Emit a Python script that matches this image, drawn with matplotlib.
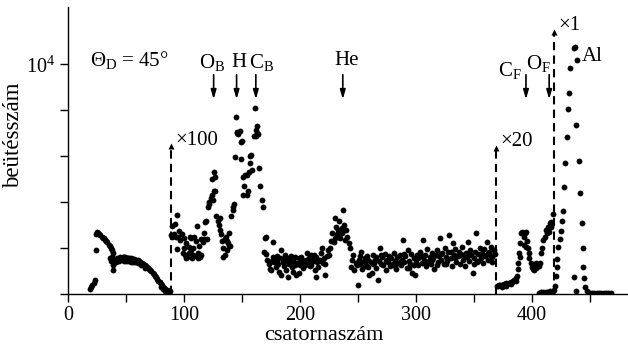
"""Backscattering spectrum (channels vs counts) with scale-factor markers."""

import matplotlib
matplotlib.use("Agg")
import matplotlib.pyplot as plt
import numpy as np

plt.rcParams['font.family'] = ['Liberation Serif', 'DejaVu Serif']
plt.rcParams['mathtext.fontset'] = 'custom'
plt.rcParams['mathtext.rm'] = 'Liberation Serif'
plt.rcParams['mathtext.it'] = 'Liberation Serif:italic'

# --- data: (channel, counts) -------------------------------------------------
# segment 1, x1 scale (low channels)
ch_a = [19, 20, 21, 22, 23, 24, 24, 25, 26, 27, 28, 29, 30, 31, 32, 33, 34, 35, 36, 37, 38, 39,
        36, 37, 38, 39, 39, 40, 41, 42, 43, 44, 45, 46,
        47, 48, 49, 50, 51, 52, 53, 54, 55, 56, 57, 58, 59, 60, 61,
        48, 50, 52, 54, 56, 58, 60, 63, 66,
        62, 63, 64, 65, 66, 67, 68, 69, 70, 71, 72, 73, 74, 75, 76, 77, 78, 79, 80,
        81, 82, 83, 84, 85, 86, 87, 88, 80, 82, 84, 86, 87]
cnt_a = [230, 320, 410, 500, 600, 1900, 2600, 2700, 2650, 2600, 2550, 2500, 2450, 2420, 2350,
         2300, 2250, 2150, 2100, 2000, 1900, 1800,
         1550, 1450, 1600, 1250, 1050, 1500, 1400, 1550, 1500, 1450, 1600, 1550,
         1600, 1590, 1590, 1580, 1570, 1560, 1550, 1550, 1540, 1530, 1520, 1500, 1480, 1460, 1430,
         1430, 1450, 1420, 1400, 1410, 1380, 1350, 1250, 1150,
         1400, 1370, 1340, 1300, 1260, 1230, 1190, 1140, 1100, 1050, 980, 920, 850, 780, 720,
         650, 580, 520, 450, 380, 310, 250, 200, 160, 140, 120, 110, 300, 200, 140, 100, 90]

# segment 2, x100 scale (O, H, C recoils from the back)
ch_b = [89, 90, 90, 91, 92, 93, 94, 94, 95, 96, 97, 98,
        99, 100, 101, 102, 103, 104, 105, 106, 107, 108, 109, 110, 111, 112, 113, 114, 115,
        116, 117, 118, 119, 120, 121, 122, 123, 124, 125, 126, 127, 128, 129, 130, 131, 132,
        133, 134, 135, 136, 137, 138, 139, 140, 141, 142, 143, 144, 145, 146, 147, 148, 149,
        149, 150, 151, 152, 153, 154, 155, 156, 157, 158, 159, 160, 161, 162, 163, 164, 165,
        166, 167, 168,
        100, 102, 104, 106, 108, 110, 112, 115, 117, 122, 124, 126, 127, 131, 134, 135, 137,
        139, 142, 146, 151, 154, 157, 162, 163]
cnt_b = [2550, 2500, 2950, 2600, 3050, 2500, 3450, 1950, 2500, 2750, 2350, 2600,
         1800, 2450, 1700, 2200, 1600, 2050, 2500, 1900, 1550, 2000, 2500, 1650, 2950, 1800,
         2100, 1600, 2400,
         2250, 2650, 3150, 3200, 2400, 3800, 4000, 4200, 5000, 4100, 5300, 4500, 3400, 3200,
         3000, 2800, 2600,
         2300, 2000, 1700, 2500, 1900, 2200, 2650, 2100, 3400, 3650, 3900, 5950, 7700, 7050,
         6950, 7100, 6600,
         5900, 6650, 5100, 4700, 5200, 4300, 4500, 5300, 5700, 6050, 5400, 6900, 8100, 7150,
         7300, 6950, 5500,
         4700, 4100, 3800,
         2000, 1550, 1800, 2450, 1700, 2300, 1550, 1700, 2400, 3900, 4300, 4500, 5100, 3300,
         1600, 2400, 2300,
         2100, 3800, 7000, 4300, 5200, 6000, 6900, 7000]

# segment 3, x100 scale continued (He peak region)
ch_c = [169, 170, 171, 171, 172, 173, 174, 175, 176, 177, 177,
        178, 179, 180, 181, 182, 183, 184, 184, 185, 186, 187, 188, 189, 190, 190, 191, 192,
        193, 194, 195, 196, 197, 198, 199, 199, 200, 201, 202, 203, 204, 205, 206, 207, 208,
        209, 210, 210, 211, 212, 213, 214, 214, 215, 216, 217, 218, 219, 220, 221, 222, 223,
        224, 225, 226, 227, 228, 229, 230, 230, 231, 232, 233, 234, 235, 236, 237, 238, 239,
        240, 241, 242, 243, 244, 245, 246, 247, 248, 249,
        180, 186, 192, 196, 202, 208, 212, 218, 222, 233, 236]
cnt_c = [1845, 2450, 2500, 1750, 1480, 1300, 1110, 1050, 1450, 2280, 1600,
         1410, 1190, 1650, 1300, 970, 1550, 1920, 830, 1400, 1200, 1700, 1050, 1450, 1550, 750,
         1300, 1650,
         1190, 970, 1400, 1630, 830, 1340, 1550, 900, 1250, 1630, 1400, 1150, 1270, 1500, 1770,
         1300, 1550,
         1200, 1700, 1270, 1450, 1600, 1050, 1630, 750, 1400, 1190, 1500, 1800, 2000, 1350,
         1550, 830, 1650,
         1900, 1700, 2000, 2300, 2650, 2250, 3300, 2430, 2920, 2600, 2800, 3160, 2430, 2870,
         3660, 3000, 2350,
         2790, 2500, 2200, 2000, 1190, 1500, 1700, 1050, 1350, 1250,
         1500, 1550, 1450, 1250, 1500, 1350, 1700, 1450, 1300, 2500, 2650]

# segment 4, x100 scale plateau
ch_d = list(range(250, 369)) + [252, 256, 259, 263, 266, 270, 274, 278, 282, 286, 290, 294,
                                298, 302, 306, 310, 314, 318, 322, 326, 330, 334, 338, 342,
                                346, 350, 354, 358, 362, 366]
cnt_d = [390, 1500, 1300, 1850, 1100, 1450, 1550, 1250, 1650, 1190,
         830, 1400, 900, 1700, 1350, 1500, 1150, 610, 1450, 2000,
         1300, 1600, 1250, 1750, 1050, 1500, 1400, 1650, 1200, 1550,
         1300, 1800, 1450, 1100, 1600, 1350, 1700, 1250, 1500, 2350,
         1400, 1650, 1150, 1900, 1450, 1300, 1750, 900, 1550, 830,
         1400, 1700, 1250, 1600, 1850, 1350, 2350, 1500, 1700, 1200,
         1950, 1450, 1600, 1300, 1800, 1550, 1100, 1700, 1900, 1400,
         1650, 2420, 1500, 1800, 1300, 2000, 1600, 1450, 1850, 2570,
         1550, 1200, 2210, 1700, 1950, 1400, 1650, 1850, 1300, 1750,
         2050, 1500, 1200, 1800, 1600, 2280, 1450, 1900, 1700, 900,
         1550, 1850, 2650, 1400, 1750, 2000, 1550, 1800, 1350, 1950,
         1650, 2280, 1500, 1850, 1700, 2050, 1600, 1900, 1750,
         1650, 1200, 1500, 1300, 1600, 1700, 1450, 1600, 1200, 1400, 1750, 1150,
         1250, 1550, 1650, 1350, 1500, 1250, 1750, 1300, 1850, 1550, 1700, 1650,
         1750, 1300, 1450, 1700, 1800, 1400]

# segment 5, x20 scale (C, O recoils from the front)
ch_e = [370, 371, 372, 373, 374, 375, 376, 377, 378, 379, 380, 381, 382, 383, 384, 385, 386,
        387, 388, 388, 389, 390, 390, 391, 392, 393, 394, 395, 396, 397, 398, 398, 399, 400,
        401, 402, 403, 404, 405, 406, 407, 408, 409, 410, 411, 412, 413, 414, 415, 416, 417,
        418, 417, 374, 378, 382, 386, 393, 395, 404]
cnt_e = [330, 350, 390, 400, 380, 400, 420, 440, 460, 450, 470, 480, 510, 530, 560, 610, 680,
         800, 1100, 1360, 1790, 2210, 1600, 2640, 2710, 2500, 2650, 2710, 2300, 2000, 1790,
         1560, 1350, 1190,
         1100, 1060, 1200, 1120, 1260, 1200, 1340, 1790, 2000, 2360, 2500, 2780, 2650, 2920,
         2710, 3080, 3140,
         3490, 2900, 300, 350, 420, 560, 2150, 2050, 1350]

# segment 6, x1 scale (Al substrate edge)
ch_f = [406, 408, 410, 412, 414, 416, 418, 419, 420, 421, 422, 422, 423, 424, 425, 426, 427,
        428, 429, 430, 431, 432, 433, 436, 437, 439, 436, 438, 438, 441, 442, 443, 444, 444,
        445, 446, 448, 450, 452, 454, 456, 458, 460, 462, 464, 466, 468]
cnt_f = [60, 70, 80, 90, 100, 110, 130, 170, 350, 790, 1190, 1530, 2040, 2400, 2760, 3200,
         3600, 4650, 5720, 6830, 8060, 8760, 9840, 10700, 10780, 10200, 760, 120, 7370, 5780,
         4390, 3080, 2000, 1190, 690, 310, 120, 60, 50, 40, 40, 40, 40, 40, 50, 50, 60]

# scale-change markers: channel, arrow top, label
scale_ch = [88.8, 369, 419]
scale_top = [6350, 6300, 11350]
scale_lbl = ['×100', '×20', '×1']

# element arrows: label, arrow channel, label channel, label height
elem_lbl = ['O$_\\mathrm{B}$', 'H', 'C$_\\mathrm{B}$', 'He', 'C$_\\mathrm{F}$', 'O$_\\mathrm{F}$']
elem_ch = [125.6, 145.4, 162, 237, 395, 415]
elem_txt_x = [124, 147.5, 167, 240, 381, 406]
elem_txt_y = [10100, 10100, 10100, 10150, 9750, 10050]

fig = plt.figure(figsize=(6.28, 3.49), dpi=100)
ax = fig.add_axes([0.1083, 0.1576, 0.8917, 0.8223])

for chs, cnts in [(ch_a, cnt_a), (ch_b, cnt_b), (ch_c, cnt_c),
                  (ch_d, cnt_d), (ch_e, cnt_e), (ch_f, cnt_f)]:
    ax.plot(chs, cnts, 'o', color='black', ms=4.2, mec='none')

# dashed scale lines with small arrow heads
for x, top, lbl in zip(scale_ch, scale_top, scale_lbl):
    ax.plot([x, x], [0, top], color='black', lw=1.5, ls=(0, (4, 2.5)))
    ax.plot(x, top + 80, marker='^', color='black', ms=4.5, mec='none')
    ax.text(x + 3.5, top + 350, lbl, fontsize=15, ha='left', va='center')

# element arrows
for lbl, x, tx, ty in zip(elem_lbl, elem_ch, elem_txt_x, elem_txt_y):
    ax.annotate('', xy=(x, 8480), xytext=(x, 9550),
                arrowprops=dict(arrowstyle='-|>,head_width=0.16,head_length=0.55',
                                lw=1.2, color='black', shrinkA=0, shrinkB=0))
    ax.text(tx, ty, lbl, fontsize=15, ha='center', va='center')

ax.text(452, 10350, 'Al', fontsize=15, ha='center', va='center')
ax.text(19, 10200, 'Θ$_\\mathrm{D}$ = 45°', fontsize=15, ha='left', va='center')

ax.set_xlim(0, 483)
ax.set_ylim(0, 12500)
ax.spines['top'].set_visible(False)
ax.spines['right'].set_visible(False)
for s in ['left', 'bottom']:
    ax.spines[s].set_linewidth(1.0)

ax.set_xticks([0, 100, 200, 300, 400])
ax.set_xticks([50, 150, 250, 350, 450], minor=True)
ax.set_yticks([0, 2000, 4000, 6000, 8000, 10000])
ax.set_yticklabels(['', '', '', '', '', '10$^4$'])
ax.tick_params(which='both', direction='out', length=5.5, width=1.0, labelsize=14.5)

ax.set_xlabel('csatornaszám', fontsize=16)
ax.set_ylabel('beütésszám', fontsize=16.5)
ax.xaxis.set_label_coords(0.457, -0.11)
ax.yaxis.set_label_coords(-0.079, 0.554)

plt.savefig('out.png', dpi=100)
